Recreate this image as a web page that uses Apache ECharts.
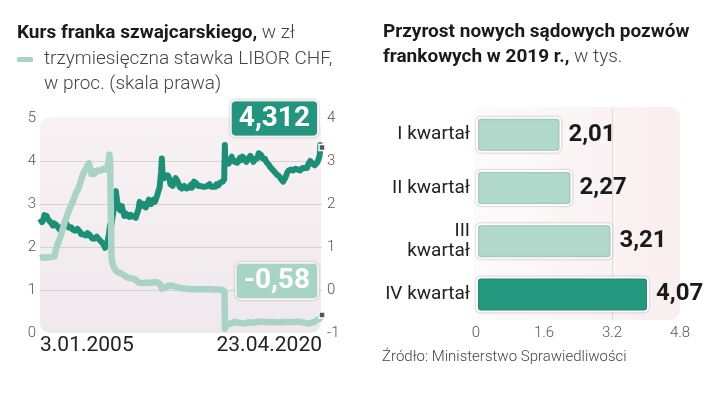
<!DOCTYPE html>
<html><head><meta charset="utf-8">
<script src="https://cdn.jsdelivr.net/npm/echarts@6/dist/echarts.min.js"></script>
<style>html,body{margin:0;padding:0;background:#fff}#c{width:721px;height:399px}</style>
</head><body><div id="c"></div>
<script>
// ---------- DATA ----------
const kursDates = [
'2005-01-03','2005-01-15','2005-02-01','2005-02-15','2005-03-01','2005-03-15','2005-04-01','2005-04-15','2005-05-01','2005-05-15','2005-06-01','2005-06-15','2005-07-01','2005-07-15','2005-08-01','2005-08-15','2005-09-01','2005-09-15','2005-10-01','2005-10-15','2005-11-01','2005-11-15','2005-12-01','2005-12-15',
'2006-01-01','2006-01-15','2006-02-01','2006-02-15','2006-03-01','2006-03-15','2006-04-01','2006-04-15','2006-05-01','2006-05-15','2006-06-01','2006-06-15','2006-07-01','2006-07-15','2006-08-01','2006-08-15','2006-09-01','2006-09-15','2006-10-01','2006-10-15','2006-11-01','2006-11-15','2006-12-01','2006-12-15',
'2007-01-01','2007-01-15','2007-02-01','2007-02-15','2007-03-01','2007-03-15','2007-04-01','2007-04-15','2007-05-01','2007-05-15','2007-06-01','2007-06-15','2007-07-01','2007-07-15','2007-08-01','2007-08-15','2007-09-01','2007-09-15','2007-10-01','2007-10-15','2007-11-01','2007-11-15','2007-12-01','2007-12-15',
'2008-01-01','2008-01-15','2008-02-01','2008-02-15','2008-03-01','2008-03-15','2008-04-01','2008-04-15','2008-05-01','2008-05-15','2008-06-01','2008-06-15','2008-07-01','2008-07-15','2008-08-01','2008-08-15','2008-09-01','2008-09-15','2008-10-01','2008-10-15','2008-11-01','2008-11-15','2008-12-01','2008-12-15',
'2009-01-01','2009-01-15','2009-02-01','2009-02-15','2009-03-01','2009-03-15','2009-04-01','2009-04-15','2009-05-01','2009-05-15','2009-06-01','2009-06-15','2009-07-01','2009-07-15','2009-08-01','2009-08-15','2009-09-01','2009-09-15','2009-10-01','2009-10-15','2009-11-01','2009-11-15','2009-12-01','2009-12-15',
'2010-01-01','2010-01-15','2010-02-01','2010-02-15','2010-03-01','2010-03-15','2010-04-01','2010-04-15','2010-05-01','2010-05-15','2010-06-01','2010-06-15','2010-07-01','2010-07-15','2010-08-01','2010-08-15','2010-09-01','2010-09-15','2010-10-01','2010-10-15','2010-11-01','2010-11-15','2010-12-01','2010-12-15',
'2011-01-01','2011-01-15','2011-02-01','2011-02-15','2011-03-01','2011-03-15','2011-04-01','2011-04-15','2011-05-01','2011-05-15','2011-06-01','2011-06-15','2011-07-01','2011-07-15','2011-08-01','2011-08-15','2011-09-01','2011-09-15','2011-10-01','2011-10-15','2011-11-01','2011-11-15','2011-12-01','2011-12-15',
'2012-01-01','2012-01-15','2012-02-01','2012-02-15','2012-03-01','2012-03-15','2012-04-01','2012-04-15','2012-05-01','2012-05-15','2012-06-01','2012-06-15','2012-07-01','2012-07-15','2012-08-01','2012-08-15','2012-09-01','2012-09-15','2012-10-01','2012-10-15','2012-11-01','2012-11-15','2012-12-01','2012-12-15',
'2013-01-01','2013-01-15','2013-02-01','2013-02-15','2013-03-01','2013-03-15','2013-04-01','2013-04-15','2013-05-01','2013-05-15','2013-06-01','2013-06-15','2013-07-01','2013-07-15','2013-08-01','2013-08-15','2013-09-01','2013-09-15','2013-10-01','2013-10-15','2013-11-01','2013-11-15','2013-12-01','2013-12-15',
'2014-01-01','2014-01-15','2014-02-01','2014-02-15','2014-03-01','2014-03-15','2014-04-01','2014-04-15','2014-05-01','2014-05-15','2014-06-01','2014-06-15','2014-07-01','2014-07-15','2014-08-01','2014-08-15','2014-09-01','2014-09-15','2014-10-01','2014-10-15','2014-11-01','2014-11-15','2014-12-01','2014-12-15',
'2015-01-01','2015-01-14','2015-01-15','2015-01-20','2015-02-01','2015-02-15','2015-03-01','2015-03-15','2015-04-01','2015-04-15','2015-05-01','2015-05-15','2015-06-01','2015-06-15','2015-07-01','2015-07-15','2015-08-01','2015-08-15','2015-09-01','2015-09-15','2015-10-01','2015-10-15','2015-11-01','2015-11-15','2015-12-01','2015-12-15',
'2016-01-01','2016-01-15','2016-02-01','2016-02-15','2016-03-01','2016-03-15','2016-04-01','2016-04-15','2016-05-01','2016-05-15','2016-06-01','2016-06-15','2016-07-01','2016-07-15','2016-08-01','2016-08-15','2016-09-01','2016-09-15','2016-10-01','2016-10-15','2016-11-01','2016-11-15','2016-12-01','2016-12-15',
'2017-01-01','2017-01-15','2017-02-01','2017-02-15','2017-03-01','2017-03-15','2017-04-01','2017-04-15','2017-05-01','2017-05-15','2017-06-01','2017-06-15','2017-07-01','2017-07-15','2017-08-01','2017-08-15','2017-09-01','2017-09-15','2017-10-01','2017-10-15','2017-11-01','2017-11-15','2017-12-01','2017-12-15',
'2018-01-01','2018-01-15','2018-02-01','2018-02-15','2018-03-01','2018-03-15','2018-04-01','2018-04-15','2018-05-01','2018-05-15','2018-06-01','2018-06-15','2018-07-01','2018-07-15','2018-08-01','2018-08-15','2018-09-01','2018-09-15','2018-10-01','2018-10-15','2018-11-01','2018-11-15','2018-12-01','2018-12-15',
'2019-01-01','2019-01-15','2019-02-01','2019-02-15','2019-03-01','2019-03-15','2019-04-01','2019-04-15','2019-05-01','2019-05-15','2019-06-01','2019-06-15','2019-07-01','2019-07-15','2019-08-01','2019-08-15','2019-09-01','2019-09-15','2019-10-01','2019-10-15','2019-11-01','2019-11-15','2019-12-01','2019-12-15',
'2020-01-01','2020-01-15','2020-02-01','2020-02-15','2020-03-01','2020-03-15','2020-03-20','2020-04-01','2020-04-15','2020-04-23'
];
const kursValues = [
2.66,2.70,2.62,2.58,2.60,2.66,2.74,2.78,2.70,2.72,2.66,2.64,2.62,2.60,2.58,2.55,2.52,2.50,2.52,2.55,2.56,2.52,2.50,2.46,
2.45,2.42,2.40,2.42,2.46,2.48,2.50,2.47,2.44,2.50,2.56,2.52,2.50,2.47,2.45,2.46,2.48,2.46,2.44,2.40,2.38,2.36,2.38,2.36,
2.40,2.42,2.38,2.40,2.36,2.33,2.30,2.28,2.31,2.29,2.30,2.32,2.27,2.25,2.32,2.34,2.30,2.28,2.24,2.26,2.20,2.18,2.17,2.19,
2.20,2.22,2.24,2.20,2.22,2.18,2.16,2.14,2.12,2.10,2.08,2.06,2.02,1.98,2.04,2.08,2.12,2.16,2.30,2.45,2.55,2.48,2.62,2.60,
2.85,3.05,3.20,3.30,3.15,3.05,2.95,2.90,2.92,2.85,2.90,2.95,2.85,2.80,2.72,2.74,2.78,2.74,2.72,2.76,2.74,2.70,2.75,2.78,
2.76,2.72,2.74,2.70,2.70,2.68,2.66,2.70,2.85,2.92,3.05,3.00,2.95,2.92,2.95,3.00,2.98,2.96,2.92,2.95,3.00,3.05,3.10,3.05,
3.02,3.00,3.00,3.04,3.10,3.12,3.05,3.08,3.15,3.20,3.28,3.30,3.38,3.55,3.75,4.06,3.62,3.70,3.60,3.62,3.66,3.70,3.64,3.66,
3.62,3.58,3.46,3.44,3.45,3.42,3.48,3.50,3.55,3.60,3.58,3.54,3.50,3.46,3.40,3.38,3.38,3.36,3.40,3.36,3.42,3.40,3.40,3.36,
3.34,3.35,3.38,3.40,3.42,3.45,3.38,3.40,3.44,3.52,3.54,3.50,3.48,3.45,3.42,3.44,3.46,3.42,3.40,3.38,3.40,3.42,3.38,3.40,
3.40,3.44,3.42,3.40,3.44,3.46,3.42,3.40,3.42,3.44,3.40,3.42,3.41,3.40,3.46,3.48,3.46,3.44,3.48,3.50,3.50,3.48,3.52,3.56,
3.57,3.58,4.37,4.10,4.00,3.98,3.96,4.00,3.94,3.98,4.02,4.06,4.10,4.04,4.02,4.08,3.98,3.96,4.00,3.96,3.98,4.02,4.04,4.08,4.02,4.06,
4.10,4.14,4.08,4.04,4.00,3.98,3.96,4.00,4.06,4.10,4.12,4.16,4.08,4.06,3.98,4.02,4.04,4.00,4.02,4.06,4.12,4.18,4.16,4.20,
4.14,4.10,4.06,4.04,4.02,4.06,4.02,3.98,3.96,3.94,3.92,3.88,3.86,3.84,3.82,3.80,3.78,3.76,3.74,3.72,3.70,3.68,3.66,3.64,
3.64,3.60,3.58,3.56,3.54,3.52,3.50,3.54,3.62,3.66,3.72,3.76,3.78,3.80,3.82,3.80,3.78,3.80,3.78,3.76,3.80,3.82,3.80,3.78,
3.80,3.82,3.80,3.78,3.80,3.82,3.84,3.82,3.86,3.84,3.82,3.86,3.84,3.88,3.94,3.98,4.00,3.96,3.98,3.94,3.96,3.92,3.90,3.92,
3.94,3.96,3.98,4.04,4.10,4.20,4.37,4.30,4.28,4.312
];
const liborDates = [
'2005-01-03','2005-03-01','2005-05-01','2005-07-01','2005-09-01','2005-10-15','2005-11-15','2005-12-15',
'2006-02-01','2006-03-15','2006-05-01','2006-06-15','2006-08-01','2006-09-15','2006-11-01','2006-12-15',
'2007-02-01','2007-03-15','2007-04-20','2007-06-01','2007-07-15','2007-09-01','2007-09-20','2007-10-20','2007-11-15','2007-12-15',
'2008-01-15','2008-02-15','2008-03-20','2008-05-01','2008-06-15','2008-08-01','2008-09-01','2008-09-25','2008-10-10','2008-10-25','2008-11-20','2008-12-15',
'2009-01-15','2009-03-01','2009-05-01','2009-07-01','2009-09-01','2009-11-01',
'2010-01-01','2010-03-01','2010-05-01','2010-07-01','2010-10-01',
'2011-01-01','2011-04-01','2011-06-01','2011-07-20','2011-08-15','2011-09-15','2011-11-01',
'2012-01-01','2012-03-01','2012-05-01','2012-07-01','2012-09-01','2012-12-01',
'2013-03-01','2013-06-01','2013-09-01','2013-12-01',
'2014-03-01','2014-06-01','2014-09-01','2014-12-10',
'2015-01-10','2015-01-16','2015-02-01','2015-03-01','2015-05-01','2015-08-01','2015-11-01',
'2016-02-01','2016-05-01','2016-08-01','2016-11-01',
'2017-02-01','2017-05-01','2017-08-01','2017-11-01',
'2018-02-01','2018-05-01','2018-08-01','2018-11-01',
'2019-02-01','2019-05-01','2019-08-01','2019-10-01','2019-12-01',
'2020-01-15','2020-02-15','2020-03-10','2020-04-01','2020-04-23'
];
const liborValues = [
0.74,0.76,0.75,0.76,0.77,0.78,0.95,1.05,
1.20,1.35,1.55,1.70,1.85,1.98,2.10,2.25,
2.35,2.50,2.65,2.75,2.85,2.95,2.85,2.70,2.78,2.70,
2.68,2.78,2.80,2.78,2.82,2.80,2.85,3.00,3.15,2.90,0.75,0.60,
0.50,0.43,0.40,0.36,0.31,0.28,
0.27,0.25,0.18,0.16,0.17,
0.17,0.18,0.17,0.12,0.03,0.02,0.06,
0.10,0.10,0.08,0.06,0.04,0.03,
0.02,0.02,0.02,0.02,
0.02,0.01,0.01,0.00,
-0.05,-0.90,-0.85,-0.80,-0.78,-0.74,-0.77,
-0.78,-0.75,-0.76,-0.74,
-0.74,-0.75,-0.74,-0.75,
-0.75,-0.74,-0.75,-0.74,
-0.74,-0.76,-0.78,-0.76,-0.74,
-0.70,-0.72,-0.66,-0.62,-0.58
];
const xTickLabels = ['3.01.2005', '23.04.2020'];
const kursName = 'Kurs franka szwajcarskiego';
const liborName = 'trzymiesięczna stawka LIBOR CHF,';
const barCategories = ['I kwartał', 'II kwartał', 'III\nkwartał', 'IV kwartał'];
const barValues = [2.01, 2.27, 3.21, 4.07];

// ---------- STYLE ----------
const FONT = 'Roboto, "Noto Sans", sans-serif';
const DARK = '#1e8f77', LIGHT = '#a9d4c5', BOX_DARK = '#23957e', BOX_LIGHT = '#a8d4c4';
const fmtNum = v => String(v).replace('.', ',');
const ts = d => echarts.time.parse(d).getTime();
const tsStart = ts(kursDates[0]);
const tsEnd = ts(kursDates[kursDates.length - 1]);
const kursData = kursDates.map((d, i) => [ts(d), kursValues[i]]);
const liborData = liborDates.map((d, i) => [ts(d), liborValues[i]]);
const kursLast = kursData[kursData.length - 1];
const liborLast = liborData[liborData.length - 1];

const chart = echarts.init(document.getElementById('c'));
const rich = (size, lh) => ({
  b: { fontSize: size, fontWeight: 'bold', color: '#1a1a1a', fontFamily: FONT, lineHeight: lh },
  n: { fontSize: size, fontWeight: 300, color: '#444', fontFamily: FONT, lineHeight: lh }
});
const endMarker = (pt) => ({
  silent: true, symbol: 'rect', symbolSize: 6,
  itemStyle: { color: '#555', borderColor: '#fff', borderWidth: 1.5 },
  label: { show: false },
  data: [{ coord: pt }]
});
const endBox = (bg, offset) => ({
  show: true, formatter: p => fmtNum(p.value[1]),
  align: 'right', verticalAlign: 'middle', offset: offset,
  backgroundColor: bg, borderColor: '#fff', borderWidth: 2, borderRadius: 4,
  shadowColor: 'rgba(0,0,0,0.35)', shadowBlur: 2,
  padding: [3, 7, 2, 7], color: '#fff', fontSize: 28, fontWeight: 'bold',
  fontFamily: FONT, lineHeight: 29
});

const option = {
  animation: false,
  textStyle: { fontFamily: FONT },
  title: [
    { left: 17, top: 21, padding: 0, text: '{b|Kurs franka szwajcarskiego,}{n| w zł}', textStyle: { rich: rich(19, 24) } },
    { left: 44, top: 73, padding: 0, text: 'w proc. (skala prawa)', textStyle: { fontSize: 19, fontWeight: 300, color: '#444', lineHeight: 22, fontFamily: FONT } },
    { left: 383, top: 20, padding: 0, text: '{b|Przyrost nowych sądowych pozwów}\n{b|frankowych w 2019 r.,}{n| w tys.}', textStyle: { rich: rich(19, 25) } },
    { left: 382, top: 348, padding: 0, text: 'Źródło: Ministerstwo Sprawiedliwości', textStyle: { fontSize: 15, fontWeight: 300, color: '#444', lineHeight: 18, fontFamily: FONT } }
  ],
  legend: {
    left: 17, top: 50, padding: 0, selectedMode: false,
    data: [{ name: liborName, icon: 'roundRect' }],
    itemWidth: 16, itemHeight: 5,
    textStyle: { fontSize: 19, fontWeight: 300, color: '#444', padding: [0, 0, 0, 6], fontFamily: FONT }
  },
  graphic: [
    { type: 'rect', z: -10, silent: true, shape: { x: 40, y: 117, width: 281, height: 216, r: 10 },
      style: { fill: new echarts.graphic.LinearGradient(0, 0, 0, 1, [{ offset: 0, color: '#f9f2f4' }, { offset: 1, color: '#efe9ed' }]) } },
    { type: 'rect', z: -10, silent: true, shape: { x: 473, y: 107, width: 207, height: 213, r: 10 },
      style: { fill: new echarts.graphic.LinearGradient(0, 0, 1, 0, [{ offset: 0, color: '#fdfafb' }, { offset: 1, color: '#f9eef0' }]) } }
  ],
  grid: [
    { left: 40, right: 399, top: 118, bottom: 66 },
    { left: 476, right: 41, top: 108, bottom: 78 }
  ],
  xAxis: [
    { type: 'value', gridIndex: 0, min: tsStart, max: tsEnd, scale: true,
      axisLine: { show: false }, axisTick: { show: false }, splitLine: { show: false },
      axisLabel: { customValues: [tsStart, tsEnd], showMinLabel: true, showMaxLabel: true,
        alignMinLabel: 'left', alignMaxLabel: 'right',
        formatter: v => (v < (tsStart + tsEnd) / 2 ? xTickLabels[0] : xTickLabels[1]),
        fontSize: 21, color: '#222', margin: 2, fontFamily: FONT } },
    { type: 'value', gridIndex: 1, min: 0, max: 4.8, interval: 1.6,
      axisLine: { show: false }, axisTick: { show: false },
      splitLine: { show: true, lineStyle: { color: ['transparent', 'transparent', '#dcdcdc', 'transparent'] } },
      axisLabel: { fontSize: 15, color: '#555', fontWeight: 300, margin: 5, fontFamily: FONT } }
  ],
  yAxis: [
    { type: 'value', gridIndex: 0, min: 0, max: 5, interval: 1, position: 'left',
      axisLine: { show: false }, axisTick: { show: false },
      splitLine: { lineStyle: { color: ['transparent', '#d6d1d5', '#d6d1d5', '#d6d1d5', '#d6d1d5', 'transparent'] } },
      axisLabel: { fontSize: 15, color: '#555', fontWeight: 300, margin: 4, fontFamily: FONT } },
    { type: 'value', gridIndex: 0, min: -1, max: 4, interval: 1, position: 'right',
      axisLine: { show: false }, axisTick: { show: false }, splitLine: { show: false },
      axisLabel: { fontSize: 15, color: '#555', fontWeight: 300, margin: 5, fontFamily: FONT } },
    { type: 'category', gridIndex: 1, data: barCategories, inverse: true,
      axisLine: { show: false }, axisTick: { show: false },
      axisLabel: { fontSize: 19, color: '#222', margin: 6, lineHeight: 20, fontFamily: FONT } }
  ],
  series: [
    { type: 'line', name: kursName, xAxisIndex: 0, yAxisIndex: 0, data: kursData,
      showSymbol: false, lineStyle: { color: DARK, width: 6, join: 'round' }, itemStyle: { color: DARK }, z: 3,
      endLabel: endBox(BOX_DARK, [-13, -29]), markPoint: endMarker(kursLast) },
    { type: 'line', name: liborName, xAxisIndex: 0, yAxisIndex: 1, data: liborData,
      showSymbol: false, lineStyle: { color: LIGHT, width: 6.5, join: 'round' }, itemStyle: { color: LIGHT }, z: 4,
      endLabel: endBox(BOX_LIGHT, [-13, -34]), markPoint: endMarker(liborLast) },
    { type: 'bar', xAxisIndex: 1, yAxisIndex: 2, data: barValues, barWidth: 36,
      itemStyle: { color: p => (p.dataIndex === barValues.length - 1 ? '#24987f' : '#b1d9cb'),
        borderColor: '#fff', borderWidth: 2, borderRadius: 4, shadowColor: 'rgba(0,0,0,0.3)', shadowBlur: 2 },
      label: { show: true, position: 'right', distance: 7, formatter: p => p.value.toFixed(2).replace('.', ','),
        fontSize: 24, fontWeight: 'bold', color: '#1a1a1a', fontFamily: FONT } }
  ]
};
chart.setOption(option);
</script>
</body></html>
